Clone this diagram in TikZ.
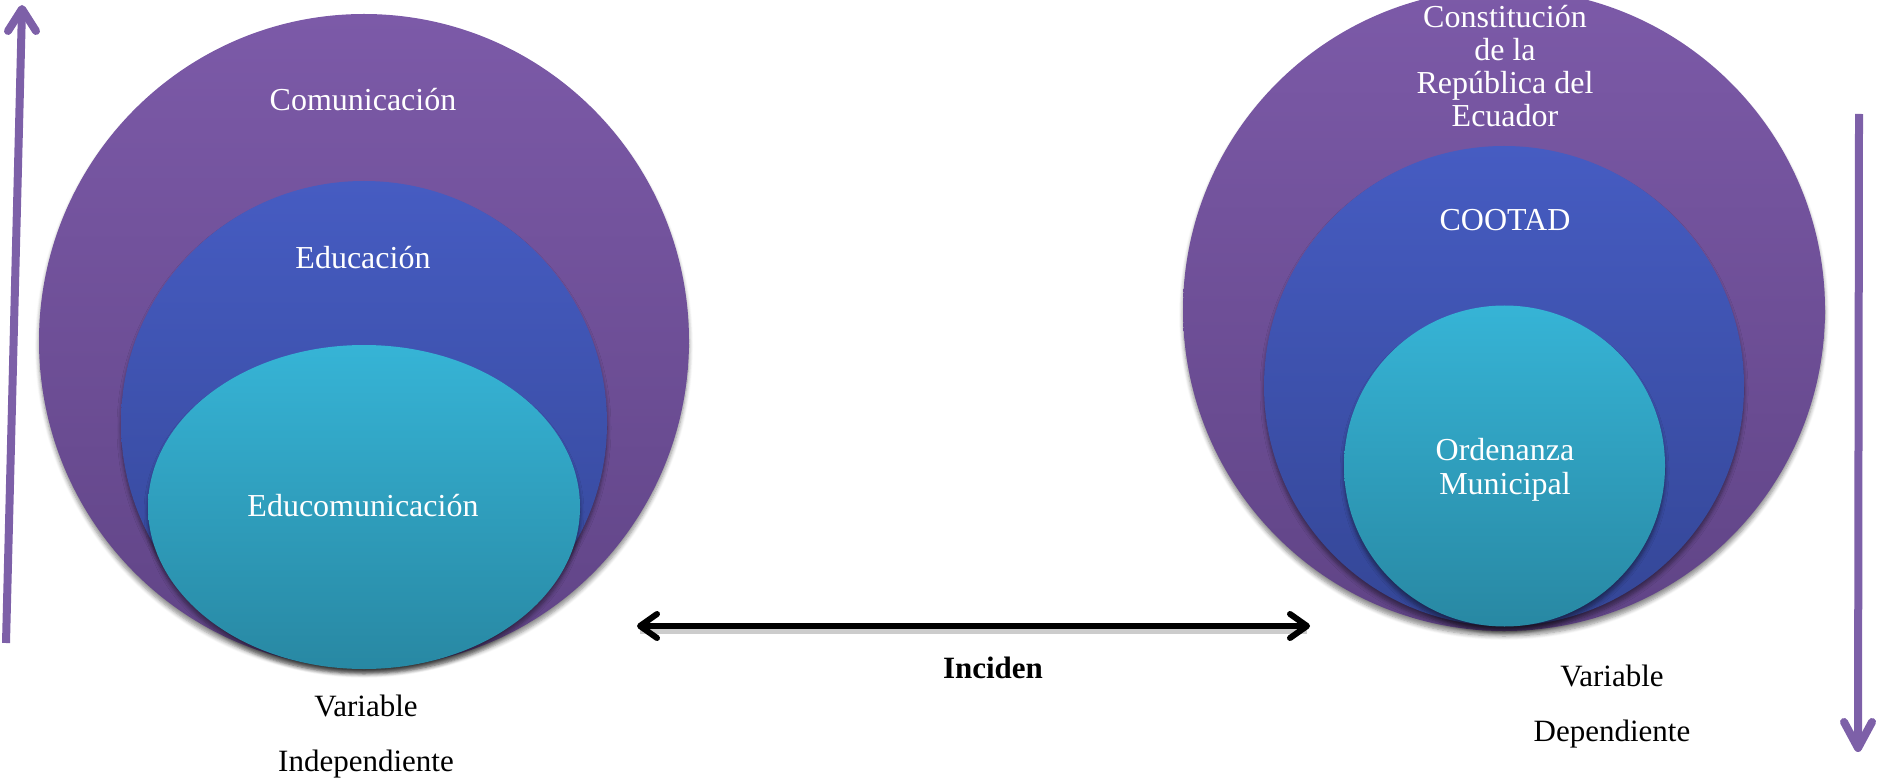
\documentclass[tikz,border=0pt]{standalone}
\usepackage{fontspec}
\setmainfont{Liberation Serif}
\usetikzlibrary{shadows.blur}
\definecolor{purpT}{RGB}{124,90,168}
\definecolor{purpB}{RGB}{96,68,134}
\definecolor{blueT}{RGB}{70,92,194}
\definecolor{blueB}{RGB}{52,70,150}
\definecolor{cyanT}{RGB}{54,180,214}
\definecolor{cyanB}{RGB}{40,136,163}
\definecolor{arrowpurple}{RGB}{125,96,168}
\tikzset{
  shad/.style={blur shadow={shadow xshift=0pt, shadow yshift=-2.5pt, shadow blur steps=6, shadow blur radius=2pt, shadow opacity=45}},
  outerring/.style={top color=purpT, bottom color=purpB, shad},
  midring/.style={top color=blueT, bottom color=blueB, shad},
  innerring/.style={top color=cyanT, bottom color=cyanB, shad},
  intext/.style={text=white, font=\fontsize{16}{16.4}\selectfont, align=center, inner sep=0pt},
  vartext/.style={text=black, font=\fontsize{15.5}{27.5}\selectfont, align=center, inner sep=0pt},
  vararrow/.style={draw=arrowpurple, line width=4pt},
  varhead/.style={draw=arrowpurple, line width=4pt, line cap=round, line join=round},
  linkarrow/.style={draw=black, line width=3pt},
  linkhead/.style={draw=black, line width=3pt, line cap=round, line join=round},
}
\begin{document}
\begin{tikzpicture}[x=0.5pt, y=-0.5pt]
\useasboundingbox (0,0) rectangle (1877,780);

% left set of ellipses
\path[outerring] (364,341) ellipse [x radius=325, y radius=327];
\path[midring] (364,423) ellipse [x radius=243, y radius=242];
\path[innerring] (364,507) ellipse [x radius=216, y radius=162];
\node[intext, anchor=base] (comu) at (363,111) {Comunicación};
\node[intext, anchor=base] (edu) at (363,269) {Educación};
\node[intext, anchor=base] (educomu) at (363,516) {Educomunicación};

% right set of circles
\path[outerring] (1504,310) ellipse [x radius=321, y radius=321];
\path[midring] (1504,386) ellipse [x radius=240, y radius=240];
\path[innerring] (1504.5,466) ellipse [x radius=160.5, y radius=160.5];
\node[intext] (const) at (1505,66) {Constitución\\de la\\República del\\Ecuador};
\node[intext, anchor=base] (cootad) at (1505,231) {COOTAD};
\node[intext, font=\fontsize{16}{17}\selectfont] (orden) at (1505,470) {Ordenanza\\Municipal};

% variable labels
\node[vartext] (vind) at (366,737) {Variable\\Independiente};
\node[vartext] (vdep) at (1612,707) {Variable\\Dependiente};

% purple arrows
\coordinate (la1) at (6,643);
\coordinate (la2) at (22,9);
\draw[vararrow] (la1) -- (la2);
\draw[varhead] (8,31) -- (la2) -- (36,31);
\coordinate (ra1) at (1859,114);
\coordinate (ra2) at (1858,748);
\draw[vararrow] (ra1) -- (ra2);
\draw[varhead] (1844,722) -- (ra2) -- (1872,722);

% black double arrow
\coordinate (ba1) at (640,626);
\coordinate (ba2) at (1307,626);
\draw[draw=black!20, line width=3pt] ([yshift=-2.5pt]ba1) -- ([yshift=-2.5pt]ba2);
\draw[linkarrow] (ba1) -- (ba2);
\draw[linkhead] (657,614) -- (ba1) -- (657,638);
\draw[linkhead] (1290,614) -- (ba2) -- (1290,638);
\node[fill=white, minimum width=174pt, minimum height=30pt, inner sep=0pt, anchor=north] (incbox) at (993,634) {};
\node[font=\fontsize{15.5}{18}\selectfont\bfseries, anchor=base, inner sep=0pt] (inciden) at (993,678) {Inciden};
\end{tikzpicture}
\end{document}
